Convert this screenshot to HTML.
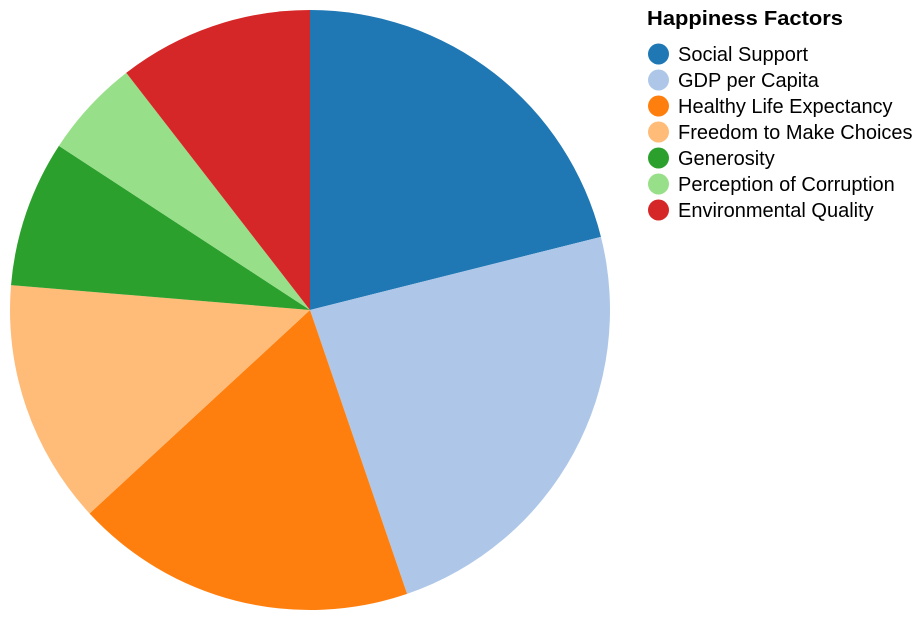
<!DOCTYPE html>
<html><head><meta charset="utf-8"><style>
body{margin:0;background:#fff;}
svg{display:block;font-family:"Liberation Sans",Arial,sans-serif;}
</style></head><body>
<svg id="chart" width="924" height="620">
<g id="slices"></g>
<g id="legend">
<text x="647" y="25" font-size="20" font-weight="bold" fill="#000" textLength="196" lengthAdjust="spacingAndGlyphs">Happiness Factors</text>
</g>
</svg>
<script>
const categories=["Social Support","GDP per Capita","Healthy Life Expectancy","Freedom to Make Choices","Generosity","Perception of Corruption","Environmental Quality"];
const values=[21.1,23.7,18.4,13.2,7.9,5.3,10.5];
const colors=["#1f77b4","#aec7e8","#ff7f0e","#ffbb78","#2ca02c","#98df8a","#d62728"];
const NS="http://www.w3.org/2000/svg";
const cx=310,cy=310,r=300;
const total=values.reduce((a,b)=>a+b,0);
const g=document.getElementById('slices');
let a0=0;
function pt(a){return [cx+r*Math.sin(a),cy-r*Math.cos(a)];}
values.forEach((v,i)=>{
  const a1=a0+v/total*2*Math.PI;
  const p0=pt(a0),p1=pt(a1);
  const large=(a1-a0)>Math.PI?1:0;
  const p=document.createElementNS(NS,'path');
  p.setAttribute('d',`M${cx},${cy}L${p0[0]},${p0[1]}A${r},${r} 0 ${large} 1 ${p1[0]},${p1[1]}Z`);
  p.setAttribute('fill',colors[i]);
  
  
  g.appendChild(p);
  a0=a1;
});
const lg=document.getElementById('legend');
categories.forEach((c,i)=>{
  const y=54+i*26;
  const e=document.createElementNS(NS,'g');
  
  
  const ci=document.createElementNS(NS,'circle');
  ci.setAttribute('cx',658.5);ci.setAttribute('cy',y);ci.setAttribute('r',10.5);
  ci.setAttribute('fill',colors[i]);
  const t=document.createElementNS(NS,'text');
  t.setAttribute('x',678);t.setAttribute('y',y+7);
  t.setAttribute('font-size','20');t.setAttribute('fill','#000');
  t.textContent=c;
  e.appendChild(ci);e.appendChild(t);lg.appendChild(e);
});
</script>
</body></html>
